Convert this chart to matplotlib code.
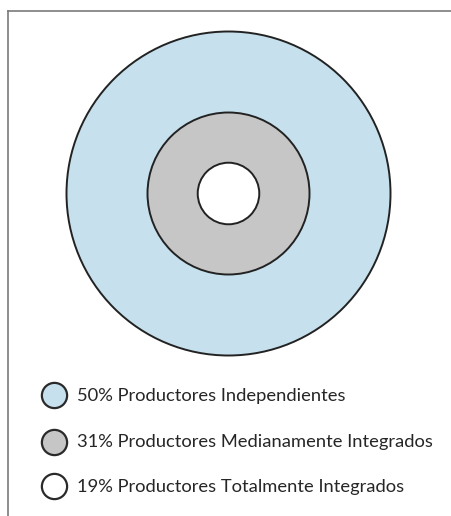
import matplotlib.pyplot as plt
from matplotlib.patches import Circle
from matplotlib.lines import Line2D

# shares of producers (%)
labels = ['Productores Independientes',
          'Productores Medianamente Integrados',
          'Productores Totalmente Integrados']
shares = [50, 31, 19]
colors = ['#c6e1ed', '#c6c6c6', '#ffffff']

W, H = 452, 516
fig = plt.figure(figsize=(W / 100, H / 100), dpi=100)
fig.patch.set_facecolor('white')

# frame (only top and left visible in the original crop)
fig.add_artist(Line2D([8 / W, 8 / W], [0, 1 - 11 / H], color='#7a7a7a', lw=1.2))
fig.add_artist(Line2D([8 / W, 1], [1 - 11 / H, 1 - 11 / H], color='#7a7a7a', lw=1.2))

# concentric circles, radius = cumulative share
cx, cy, R = 228.5, H - 193.5, 162
ax = fig.add_axes([(cx - R) / W, (cy - R) / H, 2 * R / W, 2 * R / H])
ax.set_xlim(-100, 100)
ax.set_ylim(-100, 100)
ax.axis('off')

radius = 100
for val, col in zip(shares, colors):
    ax.add_patch(Circle((0, 0), radius, facecolor=col, edgecolor='#222222',
                        lw=1.4, clip_on=False))
    radius -= val

# legend
lax = fig.add_axes([0, 0, 1, 1])
lax.set_xlim(0, W)
lax.set_ylim(H, 0)
lax.axis('off')
ys = [395, 441.5, 486]
for y, val, lab, col in zip(ys, shares, labels, colors):
    lax.scatter([54.5], [y], s=330, facecolor=col, edgecolor='#2a2a2a', lw=1.6)
    lax.text(77.5, y + 1, f'{val}% {lab}', fontsize=13.25, family='Lato',
             color='#262626', va='center', ha='left')

fig.savefig('out.png', dpi=100)
